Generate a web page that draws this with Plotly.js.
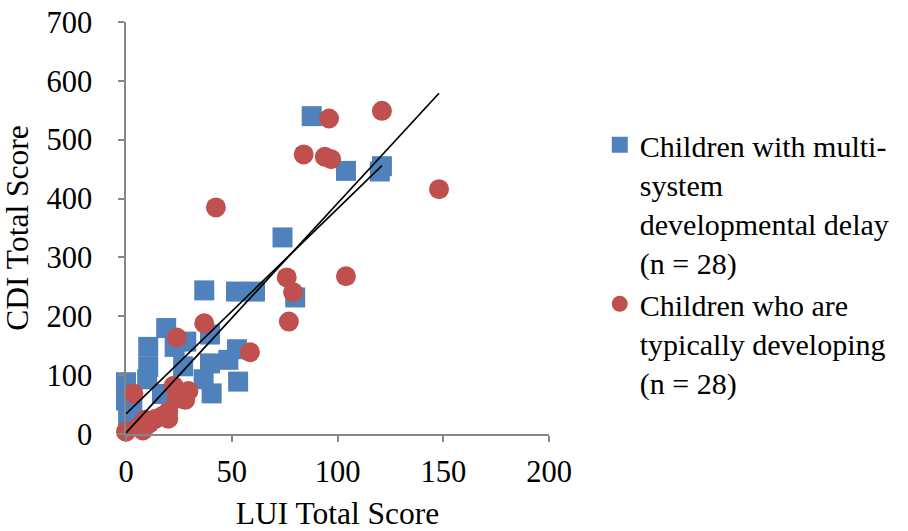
<!DOCTYPE html>
<html>
<head>
<meta charset="utf-8">
<script src="https://cdn.plot.ly/plotly-3.0.1.min.js"></script>
<style>html,body{margin:0;padding:0;background:#fff;}</style>
</head>
<body>
<div id="chart" style="width:908px;height:531px;"></div>
<script>
// Children with multi-system developmental delay (n = 28)
const delayLUI = [87.8, 104, 121, 120, 74, 80, 61, 52, 37, 19, 10.5, 28.5, 23, 39.7, 52.5, 10.5, 27, 39.7, 48.4, 0, 10, 36.7, 53, 0, 17, 40.5, 1, 3];
const delayCDI = [540, 447, 455, 446, 334, 232, 242, 242, 244, 180, 148, 157, 148, 169, 144, 114, 115, 120, 126, 88, 93, 93, 89, 57, 68, 69, 30, 45];

// Children who are typically developing (n = 28)
const typicalLUI = [121, 96, 84, 94, 97, 148, 76, 104, 79, 77, 42.5, 37, 24, 58.6, 3.5, 22.5, 29.5, 24, 28, 20, 17, 14, 9, 6, 0, 8, 20, 11];
const typicalCDI = [549, 536, 475, 471, 467, 416, 266, 268, 241, 191, 385, 188, 164, 139, 69, 82, 73, 60, 58, 38, 30, 26, 24, 12, 4, 6, 26, 18];

// Linear trendlines (end points)
const delayTrendX = [0, 121];
const delayTrendY = [34, 456];
const typicalTrendX = [0, 148];
const typicalTrendY = [2, 579];

const seriesNames = [
  'Children with multi-<br>system<br>developmental delay<br>(n = 28)',
  'Children who are<br>typically developing<br>(n = 28)'
];
const xTicks = [0, 50, 100, 150, 200];
const yTicks = [0, 100, 200, 300, 400, 500, 600, 700];

const FONT = 'Liberation Serif';
const AXIS = '#868686';

const traces = [
  {x: delayLUI, y: delayCDI, type: 'scatter', mode: 'markers', name: seriesNames[0],
   marker: {symbol: 'square', size: 20, color: '#4F81BD', line: {width: 0}}, cliponaxis: false},
  {x: typicalLUI, y: typicalCDI, type: 'scatter', mode: 'markers', name: seriesNames[1],
   marker: {symbol: 'circle', size: 20, color: '#C0504D', line: {width: 0}}, cliponaxis: false},
  {x: delayTrendX, y: delayTrendY, type: 'scatter', mode: 'lines', showlegend: false, hoverinfo: 'skip',
   line: {color: '#000', width: 1.7}, cliponaxis: false},
  {x: typicalTrendX, y: typicalTrendY, type: 'scatter', mode: 'lines', showlegend: false, hoverinfo: 'skip',
   line: {color: '#000', width: 1.7}, cliponaxis: false}
];

const layout = {
  width: 908, height: 531,
  margin: {l: 126, r: 359, t: 22, b: 97},
  paper_bgcolor: '#fff', plot_bgcolor: '#fff',
  font: {family: FONT, color: '#000', size: 30},
  showlegend: true,
  xaxis: {
    range: [0, 200], tickvals: xTicks, ticktext: xTicks.map(String),
    showline: true, linecolor: AXIS, linewidth: 1.5,
    ticks: 'outside', ticklen: 6, tickcolor: AXIS, tickwidth: 1.5,
    showgrid: false, zeroline: false,
    tickfont: {family: FONT, size: 30.5, color: '#000'},
    ticklabelstandoff: 4,
    title: {text: 'LUI Total Score', font: {family: FONT, size: 31.5, color: '#000'}, standoff: 22}
  },
  yaxis: {
    range: [0, 700], tickvals: yTicks, ticktext: yTicks.map(String),
    showline: true, linecolor: AXIS, linewidth: 1.5,
    ticks: 'outside', ticklen: 6, tickcolor: AXIS, tickwidth: 1.5,
    showgrid: false, zeroline: false,
    tickfont: {family: FONT, size: 30.5, color: '#000'},
    ticklabelstandoff: 20,
    title: {text: 'CDI Total Score', font: {family: FONT, size: 31.5, color: '#000'}, standoff: 9}
  },
  legend: {
    x: 1.12, y: 0.765, xanchor: 'left', yanchor: 'top', valign: 'top',
    font: {family: FONT, size: 30, color: '#000'},
    bgcolor: 'rgba(0,0,0,0)', borderwidth: 0, tracegroupgap: 0, itemwidth: 30
  }
};

Plotly.newPlot('chart', traces, layout, {displayModeBar: false});
</script>
</body>
</html>
